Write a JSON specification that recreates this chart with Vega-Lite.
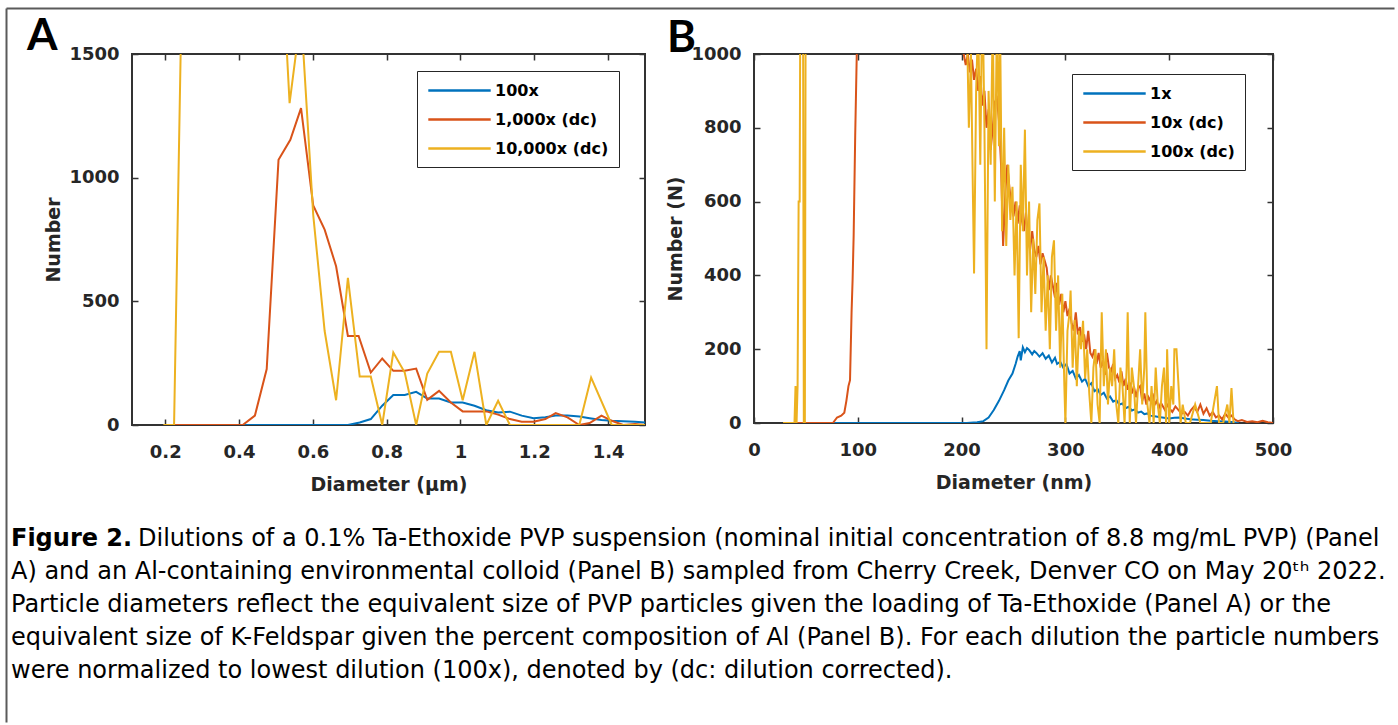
{
  "$schema": "https://vega.github.io/schema/vega-lite/v6.json",
  "padding": {"left": 6, "top": 8, "right": 0, "bottom": 0},
  "background": "white",
  "columns": 2,
  "bounds": "flush",
  "align": "each",
  "spacing": {"column": 109, "row": 94},
  "resolve": {"scale": {"x": "independent", "y": "independent", "color": "independent"}, "legend": {"color": "independent"}},
  "datasets": {
    "caption": [
      {"part": "bold", "line": 1, "text": "Figure 2."},
      {"part": "first", "line": 1, "text": "Dilutions of a 0.1% Ta-Ethoxide PVP suspension (nominal initial concentration of 8.8 mg/mL PVP) (Panel"},
      {"part": "body", "line": 2, "text": "A) and an Al-containing environmental colloid (Panel B) sampled from Cherry Creek, Denver CO on May 20ᵗʰ 2022."},
      {"part": "body", "line": 3, "text": "Particle diameters reflect the equivalent size of PVP particles given the loading of Ta-Ethoxide (Panel A) or the"},
      {"part": "body", "line": 4, "text": "equivalent size of K-Feldspar given the percent composition of Al (Panel B). For each dilution the particle numbers"},
      {"part": "body", "line": 5, "text": "were normalized to lowest dilution (100x), denoted by (dc: dilution corrected)."}
    ],
    "A": [
      {"s":"100x","d":0.4,"n":0},{"s":"100x","d":0.45,"n":0},{"s":"100x","d":0.5,"n":0},{"s":"100x","d":0.55,"n":0},{"s":"100x","d":0.6,"n":0},{"s":"100x","d":0.65,"n":0},{"s":"100x","d":0.695,"n":0},{"s":"100x","d":0.727,"n":10},{"s":"100x","d":0.757,"n":24},{"s":"100x","d":0.788,"n":78},{"s":"100x","d":0.818,"n":121},{"s":"100x","d":0.849,"n":121},{"s":"100x","d":0.88,"n":134},{"s":"100x","d":0.91,"n":107},{"s":"100x","d":0.942,"n":107},{"s":"100x","d":0.974,"n":91},{"s":"100x","d":1.006,"n":91},{"s":"100x","d":1.038,"n":78},{"s":"100x","d":1.07,"n":60},{"s":"100x","d":1.102,"n":51},{"s":"100x","d":1.134,"n":54},{"s":"100x","d":1.166,"n":38},{"s":"100x","d":1.198,"n":27},{"s":"100x","d":1.23,"n":31},{"s":"100x","d":1.258,"n":38},{"s":"100x","d":1.29,"n":38},{"s":"100x","d":1.322,"n":34},{"s":"100x","d":1.35,"n":27},{"s":"100x","d":1.382,"n":20},{"s":"100x","d":1.41,"n":17},{"s":"100x","d":1.441,"n":15},{"s":"100x","d":1.473,"n":13},{"s":"100x","d":1.5,"n":10},
      {"s":"1,000x (dc)","d":0.22,"n":0},{"s":"1,000x (dc)","d":0.25,"n":0},{"s":"1,000x (dc)","d":0.28,"n":0},{"s":"1,000x (dc)","d":0.315,"n":0},{"s":"1,000x (dc)","d":0.345,"n":0},{"s":"1,000x (dc)","d":0.378,"n":0},{"s":"1,000x (dc)","d":0.41,"n":0},{"s":"1,000x (dc)","d":0.443,"n":38},{"s":"1,000x (dc)","d":0.475,"n":226},{"s":"1,000x (dc)","d":0.507,"n":1072},{"s":"1,000x (dc)","d":0.539,"n":1153},{"s":"1,000x (dc)","d":0.568,"n":1281},{"s":"1,000x (dc)","d":0.601,"n":888},{"s":"1,000x (dc)","d":0.632,"n":790},{"s":"1,000x (dc)","d":0.663,"n":642},{"s":"1,000x (dc)","d":0.695,"n":360},{"s":"1,000x (dc)","d":0.724,"n":360},{"s":"1,000x (dc)","d":0.757,"n":212},{"s":"1,000x (dc)","d":0.788,"n":269},{"s":"1,000x (dc)","d":0.818,"n":219},{"s":"1,000x (dc)","d":0.849,"n":219},{"s":"1,000x (dc)","d":0.88,"n":228},{"s":"1,000x (dc)","d":0.91,"n":102},{"s":"1,000x (dc)","d":0.942,"n":138},{"s":"1,000x (dc)","d":0.974,"n":91},{"s":"1,000x (dc)","d":1.006,"n":55},{"s":"1,000x (dc)","d":1.038,"n":55},{"s":"1,000x (dc)","d":1.07,"n":55},{"s":"1,000x (dc)","d":1.102,"n":42},{"s":"1,000x (dc)","d":1.134,"n":24},{"s":"1,000x (dc)","d":1.166,"n":13},{"s":"1,000x (dc)","d":1.198,"n":13},{"s":"1,000x (dc)","d":1.23,"n":24},{"s":"1,000x (dc)","d":1.258,"n":48},{"s":"1,000x (dc)","d":1.29,"n":31},{"s":"1,000x (dc)","d":1.322,"n":0},{"s":"1,000x (dc)","d":1.35,"n":8},{"s":"1,000x (dc)","d":1.382,"n":38},{"s":"1,000x (dc)","d":1.41,"n":17},{"s":"1,000x (dc)","d":1.441,"n":0},{"s":"1,000x (dc)","d":1.473,"n":4},{"s":"1,000x (dc)","d":1.5,"n":0},
      {"s":"10,000x (dc)","d":0.195,"n":0},{"s":"10,000x (dc)","d":0.224,"n":0},{"s":"10,000x (dc)","d":0.256,"n":2700},{"s":"10,000x (dc)","d":0.288,"n":4000},{"s":"10,000x (dc)","d":0.32,"n":3500},{"s":"10,000x (dc)","d":0.352,"n":3000},{"s":"10,000x (dc)","d":0.384,"n":3800},{"s":"10,000x (dc)","d":0.416,"n":3200},{"s":"10,000x (dc)","d":0.448,"n":3000},{"s":"10,000x (dc)","d":0.48,"n":2600},{"s":"10,000x (dc)","d":0.505,"n":2200},{"s":"10,000x (dc)","d":0.537,"n":1301},{"s":"10,000x (dc)","d":0.568,"n":1663},{"s":"10,000x (dc)","d":0.601,"n":850},{"s":"10,000x (dc)","d":0.632,"n":380},{"s":"10,000x (dc)","d":0.663,"n":100},{"s":"10,000x (dc)","d":0.695,"n":595},{"s":"10,000x (dc)","d":0.727,"n":196},{"s":"10,000x (dc)","d":0.757,"n":196},{"s":"10,000x (dc)","d":0.788,"n":0},{"s":"10,000x (dc)","d":0.818,"n":293},{"s":"10,000x (dc)","d":0.849,"n":212},{"s":"10,000x (dc)","d":0.88,"n":0},{"s":"10,000x (dc)","d":0.91,"n":208},{"s":"10,000x (dc)","d":0.942,"n":296},{"s":"10,000x (dc)","d":0.974,"n":296},{"s":"10,000x (dc)","d":1.006,"n":100},{"s":"10,000x (dc)","d":1.038,"n":296},{"s":"10,000x (dc)","d":1.07,"n":0},{"s":"10,000x (dc)","d":1.102,"n":98},{"s":"10,000x (dc)","d":1.134,"n":0},{"s":"10,000x (dc)","d":1.166,"n":0},{"s":"10,000x (dc)","d":1.198,"n":0},{"s":"10,000x (dc)","d":1.23,"n":0},{"s":"10,000x (dc)","d":1.258,"n":0},{"s":"10,000x (dc)","d":1.29,"n":0},{"s":"10,000x (dc)","d":1.322,"n":0},{"s":"10,000x (dc)","d":1.354,"n":192},{"s":"10,000x (dc)","d":1.41,"n":0},{"s":"10,000x (dc)","d":1.441,"n":0},{"s":"10,000x (dc)","d":1.473,"n":0},{"s":"10,000x (dc)","d":1.5,"n":0}
    ],
    "B": [
      {"s":"1x","d":75,"n":0},{"s":"1x","d":90,"n":0},{"s":"1x","d":110,"n":0},{"s":"1x","d":130,"n":0},{"s":"1x","d":150,"n":0},{"s":"1x","d":170,"n":0},{"s":"1x","d":190,"n":0},{"s":"1x","d":205,"n":0},{"s":"1x","d":215,"n":2},{"s":"1x","d":221,"n":5},{"s":"1x","d":226,"n":15},{"s":"1x","d":231,"n":35},{"s":"1x","d":236,"n":60},{"s":"1x","d":241,"n":89},{"s":"1x","d":245,"n":115},{"s":"1x","d":249,"n":134},{"s":"1x","d":252,"n":160},{"s":"1x","d":254,"n":180},{"s":"1x","d":256,"n":195},{"s":"1x","d":257,"n":170},{"s":"1x","d":259,"n":205},{"s":"1x","d":261,"n":192},{"s":"1x","d":263,"n":203},{"s":"1x","d":265,"n":198},{"s":"1x","d":268,"n":186},{"s":"1x","d":270,"n":195},{"s":"1x","d":272,"n":190},{"s":"1x","d":275,"n":180},{"s":"1x","d":278,"n":189},{"s":"1x","d":281,"n":174},{"s":"1x","d":284,"n":183},{"s":"1x","d":287,"n":164},{"s":"1x","d":290,"n":177},{"s":"1x","d":292,"n":160},{"s":"1x","d":295,"n":166},{"s":"1x","d":298,"n":150},{"s":"1x","d":301,"n":160},{"s":"1x","d":304,"n":134},{"s":"1x","d":307,"n":141},{"s":"1x","d":310,"n":121},{"s":"1x","d":313,"n":130},{"s":"1x","d":316,"n":112},{"s":"1x","d":319,"n":120},{"s":"1x","d":322,"n":100},{"s":"1x","d":325,"n":108},{"s":"1x","d":328,"n":86},{"s":"1x","d":331,"n":92},{"s":"1x","d":334,"n":76},{"s":"1x","d":337,"n":82},{"s":"1x","d":340,"n":66},{"s":"1x","d":343,"n":72},{"s":"1x","d":346,"n":58},{"s":"1x","d":349,"n":62},{"s":"1x","d":352,"n":50},{"s":"1x","d":355,"n":53},{"s":"1x","d":358,"n":40},{"s":"1x","d":361,"n":44},{"s":"1x","d":364,"n":34},{"s":"1x","d":367,"n":37},{"s":"1x","d":370,"n":28},{"s":"1x","d":373,"n":31},{"s":"1x","d":376,"n":24},{"s":"1x","d":379,"n":26},{"s":"1x","d":382,"n":20},{"s":"1x","d":386,"n":18},{"s":"1x","d":390,"n":16},{"s":"1x","d":395,"n":14},{"s":"1x","d":400,"n":12},{"s":"1x","d":405,"n":14},{"s":"1x","d":410,"n":15},{"s":"1x","d":415,"n":12},{"s":"1x","d":420,"n":10},{"s":"1x","d":427,"n":9},{"s":"1x","d":433,"n":8},{"s":"1x","d":440,"n":6},{"s":"1x","d":447,"n":5},{"s":"1x","d":454,"n":4},{"s":"1x","d":460,"n":3},{"s":"1x","d":467,"n":0},
      {"s":"10x (dc)","d":30,"n":0},{"s":"10x (dc)","d":40,"n":0},{"s":"10x (dc)","d":50,"n":0},{"s":"10x (dc)","d":60,"n":0},{"s":"10x (dc)","d":70,"n":0},{"s":"10x (dc)","d":76,"n":0},{"s":"10x (dc)","d":80,"n":15},{"s":"10x (dc)","d":84,"n":20},{"s":"10x (dc)","d":87,"n":28},{"s":"10x (dc)","d":89,"n":60},{"s":"10x (dc)","d":91,"n":100},{"s":"10x (dc)","d":92.5,"n":116},{"s":"10x (dc)","d":94,"n":300},{"s":"10x (dc)","d":95,"n":389},{"s":"10x (dc)","d":96,"n":507},{"s":"10x (dc)","d":97.5,"n":780},{"s":"10x (dc)","d":99,"n":1000},{"s":"10x (dc)","d":100,"n":1150},{"s":"10x (dc)","d":110,"n":2200},{"s":"10x (dc)","d":130,"n":3000},{"s":"10x (dc)","d":150,"n":3300},{"s":"10x (dc)","d":170,"n":3000},{"s":"10x (dc)","d":190,"n":2000},{"s":"10x (dc)","d":200,"n":1300},
      {"s":"10x (dc)","d":202,"n":1000},{"s":"10x (dc)","d":204,"n":970},{"s":"10x (dc)","d":206,"n":1000},{"s":"10x (dc)","d":208,"n":950},{"s":"10x (dc)","d":210,"n":985},{"s":"10x (dc)","d":212,"n":930},{"s":"10x (dc)","d":214,"n":960},{"s":"10x (dc)","d":216,"n":900},{"s":"10x (dc)","d":218,"n":940},{"s":"10x (dc)","d":220,"n":860},{"s":"10x (dc)","d":222,"n":900},{"s":"10x (dc)","d":224,"n":800},{"s":"10x (dc)","d":226,"n":850},{"s":"10x (dc)","d":228,"n":740},{"s":"10x (dc)","d":230,"n":800},{"s":"10x (dc)","d":232,"n":870},{"s":"10x (dc)","d":234,"n":880},{"s":"10x (dc)","d":236,"n":820},{"s":"10x (dc)","d":238,"n":700},{"s":"10x (dc)","d":240,"n":480},{"s":"10x (dc)","d":242,"n":620},{"s":"10x (dc)","d":244,"n":700},{"s":"10x (dc)","d":246,"n":640},{"s":"10x (dc)","d":248,"n":590},{"s":"10x (dc)","d":250,"n":560},{"s":"10x (dc)","d":252,"n":600},{"s":"10x (dc)","d":254,"n":540},{"s":"10x (dc)","d":256,"n":590},{"s":"10x (dc)","d":258,"n":550},{"s":"10x (dc)","d":260,"n":520},{"s":"10x (dc)","d":262,"n":570},{"s":"10x (dc)","d":264,"n":500},{"s":"10x (dc)","d":266,"n":470},{"s":"10x (dc)","d":268,"n":520},{"s":"10x (dc)","d":270,"n":470},{"s":"10x (dc)","d":272,"n":450},{"s":"10x (dc)","d":274,"n":480},{"s":"10x (dc)","d":276,"n":430},{"s":"10x (dc)","d":278,"n":460},{"s":"10x (dc)","d":280,"n":440},{"s":"10x (dc)","d":282,"n":420},{"s":"10x (dc)","d":284,"n":360},{"s":"10x (dc)","d":286,"n":400},{"s":"10x (dc)","d":288,"n":370},{"s":"10x (dc)","d":290,"n":340},{"s":"10x (dc)","d":292,"n":380},{"s":"10x (dc)","d":294,"n":320},{"s":"10x (dc)","d":296,"n":350},{"s":"10x (dc)","d":298,"n":300},{"s":"10x (dc)","d":300,"n":330},{"s":"10x (dc)","d":302,"n":290},{"s":"10x (dc)","d":304,"n":310},{"s":"10x (dc)","d":306,"n":270},{"s":"10x (dc)","d":308,"n":250},{"s":"10x (dc)","d":310,"n":300},{"s":"10x (dc)","d":312,"n":240},{"s":"10x (dc)","d":314,"n":260},{"s":"10x (dc)","d":316,"n":220},{"s":"10x (dc)","d":318,"n":240},{"s":"10x (dc)","d":320,"n":200},{"s":"10x (dc)","d":322,"n":250},{"s":"10x (dc)","d":324,"n":190},{"s":"10x (dc)","d":326,"n":180},{"s":"10x (dc)","d":328,"n":200},{"s":"10x (dc)","d":330,"n":160},{"s":"10x (dc)","d":332,"n":190},{"s":"10x (dc)","d":334,"n":150},{"s":"10x (dc)","d":336,"n":170},{"s":"10x (dc)","d":338,"n":130},{"s":"10x (dc)","d":340,"n":190},{"s":"10x (dc)","d":342,"n":150},{"s":"10x (dc)","d":344,"n":140},{"s":"10x (dc)","d":346,"n":160},{"s":"10x (dc)","d":348,"n":120},{"s":"10x (dc)","d":350,"n":130},{"s":"10x (dc)","d":352,"n":110},{"s":"10x (dc)","d":354,"n":140},{"s":"10x (dc)","d":356,"n":100},{"s":"10x (dc)","d":358,"n":120},{"s":"10x (dc)","d":360,"n":90},{"s":"10x (dc)","d":362,"n":110},{"s":"10x (dc)","d":364,"n":80},{"s":"10x (dc)","d":366,"n":100},{"s":"10x (dc)","d":368,"n":70},{"s":"10x (dc)","d":370,"n":95},{"s":"10x (dc)","d":372,"n":100},{"s":"10x (dc)","d":374,"n":60},{"s":"10x (dc)","d":376,"n":80},{"s":"10x (dc)","d":378,"n":50},{"s":"10x (dc)","d":380,"n":70},{"s":"10x (dc)","d":382,"n":60},{"s":"10x (dc)","d":384,"n":80},{"s":"10x (dc)","d":386,"n":50},{"s":"10x (dc)","d":388,"n":60},{"s":"10x (dc)","d":390,"n":40},{"s":"10x (dc)","d":392,"n":55},{"s":"10x (dc)","d":394,"n":45},{"s":"10x (dc)","d":396,"n":35},{"s":"10x (dc)","d":398,"n":50},{"s":"10x (dc)","d":400,"n":40},{"s":"10x (dc)","d":403,"n":30},{"s":"10x (dc)","d":406,"n":45},{"s":"10x (dc)","d":409,"n":35},{"s":"10x (dc)","d":412,"n":25},{"s":"10x (dc)","d":415,"n":30},{"s":"10x (dc)","d":418,"n":20},{"s":"10x (dc)","d":421,"n":35},{"s":"10x (dc)","d":424,"n":45},{"s":"10x (dc)","d":427,"n":30},{"s":"10x (dc)","d":430,"n":50},{"s":"10x (dc)","d":433,"n":25},{"s":"10x (dc)","d":436,"n":40},{"s":"10x (dc)","d":439,"n":20},{"s":"10x (dc)","d":442,"n":30},{"s":"10x (dc)","d":445,"n":15},{"s":"10x (dc)","d":448,"n":20},{"s":"10x (dc)","d":451,"n":10},{"s":"10x (dc)","d":454,"n":25},{"s":"10x (dc)","d":457,"n":15},{"s":"10x (dc)","d":460,"n":20},{"s":"10x (dc)","d":463,"n":10},{"s":"10x (dc)","d":466,"n":5},{"s":"10x (dc)","d":470,"n":8},{"s":"10x (dc)","d":475,"n":3},{"s":"10x (dc)","d":480,"n":5},{"s":"10x (dc)","d":485,"n":2},{"s":"10x (dc)","d":490,"n":6},{"s":"10x (dc)","d":495,"n":2},{"s":"10x (dc)","d":500,"n":0},
      {"s":"100x (dc)","d":28,"n":0},{"s":"100x (dc)","d":32,"n":0},{"s":"100x (dc)","d":36,"n":0},{"s":"100x (dc)","d":39,"n":0},{"s":"100x (dc)","d":40,"n":100},{"s":"100x (dc)","d":41,"n":0},{"s":"100x (dc)","d":42,"n":100},{"s":"100x (dc)","d":43,"n":600},{"s":"100x (dc)","d":44,"n":600},{"s":"100x (dc)","d":45,"n":1500},{"s":"100x (dc)","d":46,"n":2000},{"s":"100x (dc)","d":47,"n":1500},{"s":"100x (dc)","d":48,"n":0},{"s":"100x (dc)","d":49,"n":0},{"s":"100x (dc)","d":50,"n":1500},{"s":"100x (dc)","d":52,"n":3000},{"s":"100x (dc)","d":80,"n":4000},{"s":"100x (dc)","d":120,"n":5000},{"s":"100x (dc)","d":160,"n":4000},{"s":"100x (dc)","d":190,"n":3000},{"s":"100x (dc)","d":203,"n":1400},
      {"s":"100x (dc)","d":205,"n":1100},{"s":"100x (dc)","d":207,"n":800},{"s":"100x (dc)","d":209,"n":1000},{"s":"100x (dc)","d":211,"n":600},{"s":"100x (dc)","d":212,"n":405},{"s":"100x (dc)","d":214,"n":900},{"s":"100x (dc)","d":216,"n":1100},{"s":"100x (dc)","d":218,"n":700},{"s":"100x (dc)","d":220,"n":1200},{"s":"100x (dc)","d":222,"n":800},{"s":"100x (dc)","d":224,"n":200},{"s":"100x (dc)","d":226,"n":900},{"s":"100x (dc)","d":228,"n":700},{"s":"100x (dc)","d":230,"n":1100},{"s":"100x (dc)","d":232,"n":600},{"s":"100x (dc)","d":234,"n":1100},{"s":"100x (dc)","d":236,"n":750},{"s":"100x (dc)","d":237,"n":1100},{"s":"100x (dc)","d":239,"n":520},{"s":"100x (dc)","d":241,"n":800},{"s":"100x (dc)","d":243,"n":480},{"s":"100x (dc)","d":245,"n":700},{"s":"100x (dc)","d":247,"n":550},{"s":"100x (dc)","d":249,"n":640},{"s":"100x (dc)","d":251,"n":400},{"s":"100x (dc)","d":253,"n":600},{"s":"100x (dc)","d":255,"n":230},{"s":"100x (dc)","d":257,"n":700},{"s":"100x (dc)","d":259,"n":520},{"s":"100x (dc)","d":261,"n":795},{"s":"100x (dc)","d":263,"n":400},{"s":"100x (dc)","d":265,"n":600},{"s":"100x (dc)","d":267,"n":300},{"s":"100x (dc)","d":269,"n":500},{"s":"100x (dc)","d":271,"n":350},{"s":"100x (dc)","d":273,"n":550},{"s":"100x (dc)","d":275,"n":595},{"s":"100x (dc)","d":277,"n":300},{"s":"100x (dc)","d":279,"n":450},{"s":"100x (dc)","d":281,"n":250},{"s":"100x (dc)","d":283,"n":400},{"s":"100x (dc)","d":285,"n":200},{"s":"100x (dc)","d":287,"n":450},{"s":"100x (dc)","d":289,"n":495},{"s":"100x (dc)","d":291,"n":250},{"s":"100x (dc)","d":293,"n":400},{"s":"100x (dc)","d":295,"n":150},{"s":"100x (dc)","d":297,"n":350},{"s":"100x (dc)","d":299,"n":100},{"s":"100x (dc)","d":300,"n":0},{"s":"100x (dc)","d":302,"n":250},{"s":"100x (dc)","d":304,"n":300},{"s":"100x (dc)","d":305,"n":359},{"s":"100x (dc)","d":307,"n":150},{"s":"100x (dc)","d":309,"n":280},{"s":"100x (dc)","d":311,"n":100},{"s":"100x (dc)","d":313,"n":250},{"s":"100x (dc)","d":315,"n":200},{"s":"100x (dc)","d":317,"n":277},{"s":"100x (dc)","d":319,"n":120},{"s":"100x (dc)","d":321,"n":200},{"s":"100x (dc)","d":323,"n":80},{"s":"100x (dc)","d":325,"n":0},{"s":"100x (dc)","d":327,"n":150},{"s":"100x (dc)","d":329,"n":200},{"s":"100x (dc)","d":331,"n":50},{"s":"100x (dc)","d":333,"n":0},{"s":"100x (dc)","d":335,"n":300},{"s":"100x (dc)","d":337,"n":100},{"s":"100x (dc)","d":339,"n":200},{"s":"100x (dc)","d":341,"n":50},{"s":"100x (dc)","d":343,"n":150},{"s":"100x (dc)","d":345,"n":100},{"s":"100x (dc)","d":347,"n":200},{"s":"100x (dc)","d":349,"n":50},{"s":"100x (dc)","d":351,"n":0},{"s":"100x (dc)","d":353,"n":150},{"s":"100x (dc)","d":355,"n":100},{"s":"100x (dc)","d":357,"n":0},{"s":"100x (dc)","d":359,"n":150},{"s":"100x (dc)","d":360,"n":300},{"s":"100x (dc)","d":362,"n":0},{"s":"100x (dc)","d":364,"n":150},{"s":"100x (dc)","d":366,"n":100},{"s":"100x (dc)","d":368,"n":0},{"s":"100x (dc)","d":370,"n":100},{"s":"100x (dc)","d":372,"n":200},{"s":"100x (dc)","d":374,"n":50},{"s":"100x (dc)","d":376,"n":150},{"s":"100x (dc)","d":377,"n":300},{"s":"100x (dc)","d":379,"n":50},{"s":"100x (dc)","d":381,"n":0},{"s":"100x (dc)","d":383,"n":100},{"s":"100x (dc)","d":385,"n":0},{"s":"100x (dc)","d":387,"n":150},{"s":"100x (dc)","d":389,"n":50},{"s":"100x (dc)","d":391,"n":0},{"s":"100x (dc)","d":393,"n":100},{"s":"100x (dc)","d":395,"n":150},{"s":"100x (dc)","d":397,"n":0},{"s":"100x (dc)","d":398,"n":200},{"s":"100x (dc)","d":400,"n":0},{"s":"100x (dc)","d":402,"n":100},{"s":"100x (dc)","d":404,"n":50},{"s":"100x (dc)","d":405,"n":200},{"s":"100x (dc)","d":407,"n":200},{"s":"100x (dc)","d":409,"n":100},{"s":"100x (dc)","d":411,"n":0},{"s":"100x (dc)","d":413,"n":50},{"s":"100x (dc)","d":416,"n":0},{"s":"100x (dc)","d":420,"n":0},{"s":"100x (dc)","d":425,"n":50},{"s":"100x (dc)","d":430,"n":0},{"s":"100x (dc)","d":435,"n":0},{"s":"100x (dc)","d":440,"n":0},{"s":"100x (dc)","d":443,"n":50},{"s":"100x (dc)","d":446,"n":100},{"s":"100x (dc)","d":448,"n":0},{"s":"100x (dc)","d":452,"n":0},{"s":"100x (dc)","d":456,"n":50},{"s":"100x (dc)","d":458,"n":0},{"s":"100x (dc)","d":460,"n":95},{"s":"100x (dc)","d":462,"n":0}
    ]
  },
  "concat": [
    {
      "width": 513,
      "height": 371,
      "title": {"text": "A", "anchor": "start", "frame": "group", "dx": -105, "offset": -49, "baseline": "alphabetic", "font": "Lato", "fontSize": 44, "fontWeight": "bold", "color": "black"},
      "view": {"stroke": "#333333", "strokeWidth": 2},
      "data": {"name": "A"},
      "resolve": {"axis": {"x": "independent", "y": "independent"}},
      "layer": [
        {
          "mark": {"type": "line", "strokeWidth": 2, "clip": true},
          "encoding": {
            "x": {"field": "d", "type": "quantitative", "scale": {"domain": [0.11, 1.5], "nice": false, "zero": false}, "axis": {"orient": "bottom", "values": [0.2, 0.4, 0.6, 0.8, 1, 1.2, 1.4], "format": "~g", "labelPadding": 24, "titlePadding": 14}, "title": "Diameter (μm)"},
            "y": {"field": "n", "type": "quantitative", "scale": {"domain": [0, 1500], "nice": false, "zero": false}, "axis": {"orient": "left", "values": [0, 500, 1000, 1500], "format": "d", "labelPadding": 19, "titlePadding": 5}, "title": "Number"},
            "color": {"field": "s", "type": "nominal", "sort": null, "scale": {"domain": ["100x", "1,000x (dc)", "10,000x (dc)"], "range": ["#0072BD", "#D95319", "#EDB120"]}, "legend": {"orient": "none", "legendX": 285, "legendY": 17}}
          }
        },
        {
          "mark": {"type": "line", "opacity": 0, "clip": true},
          "encoding": {
            "x": {"field": "d", "type": "quantitative", "axis": {"orient": "top", "values": [0.2, 0.4, 0.6, 0.8, 1, 1.2, 1.4], "labels": false, "title": null}},
            "y": {"field": "n", "type": "quantitative", "axis": {"orient": "right", "values": [0, 500, 1000, 1500], "labels": false, "title": null}}
          }
        }
      ]
    },
    {
      "width": 519,
      "height": 369,
      "title": {"text": "B", "anchor": "start", "frame": "group", "dx": -87, "offset": -51, "baseline": "alphabetic", "font": "Lato", "fontSize": 44, "fontWeight": "bold", "color": "black"},
      "view": {"stroke": "#333333", "strokeWidth": 2},
      "data": {"name": "B"},
      "resolve": {"axis": {"x": "independent", "y": "independent"}},
      "layer": [
        {
          "mark": {"type": "line", "strokeWidth": 2, "clip": true},
          "encoding": {
            "x": {"field": "d", "type": "quantitative", "scale": {"domain": [0, 500], "nice": false, "zero": false}, "axis": {"orient": "bottom", "values": [0, 100, 200, 300, 400, 500], "format": "d", "labelPadding": 24, "titlePadding": 14}, "title": "Diameter (nm)"},
            "y": {"field": "n", "type": "quantitative", "scale": {"domain": [0, 1000], "nice": false, "zero": false}, "axis": {"orient": "left", "values": [0, 200, 400, 600, 800, 1000], "format": "d", "labelPadding": 19, "titlePadding": 5}, "title": "Number (N)"},
            "color": {"field": "s", "type": "nominal", "sort": null, "scale": {"domain": ["1x", "10x (dc)", "100x (dc)"], "range": ["#0072BD", "#D95319", "#EDB120"]}, "legend": {"orient": "none", "legendX": 318, "legendY": 20}}
          }
        },
        {
          "mark": {"type": "line", "opacity": 0, "clip": true},
          "encoding": {
            "x": {"field": "d", "type": "quantitative", "axis": {"orient": "top", "values": [0, 100, 200, 300, 400, 500], "labels": false, "title": null}},
            "y": {"field": "n", "type": "quantitative", "axis": {"orient": "right", "values": [0, 200, 400, 600, 800, 1000], "labels": false, "title": null}}
          }
        }
      ]
    },
    {
      "width": 513,
      "height": 170,
      "data": {"name": "caption"},
      "encoding": {
        "x": {"datum": 0, "type": "quantitative", "scale": {"domain": [-5, 1383], "range": [-126, 1262], "nice": false, "zero": false}, "axis": {"orient": "top", "offset": 511, "domain": true, "domainColor": "#5a5a5a", "domainWidth": 2, "ticks": false, "labels": false, "grid": false, "title": null}},
        "y": {"field": "line", "type": "quantitative", "scale": {"domain": [-15.0909, 6.5455], "range": [-511, 203], "nice": false, "zero": false}, "axis": {"orient": "left", "offset": 126, "domain": true, "domainColor": "#5a5a5a", "domainWidth": 2, "ticks": false, "labels": false, "grid": false, "title": null}},
        "text": {"field": "text", "type": "nominal"}
      },
      "layer": [
        {"transform": [{"filter": "datum.part === 'bold'"}], "mark": {"type": "text", "align": "left", "baseline": "middle", "font": "DejaVu Sans", "fontSize": 24, "fontWeight": "bold", "color": "black"}},
        {"transform": [{"filter": "datum.part === 'first'"}], "mark": {"type": "text", "align": "left", "baseline": "middle", "font": "DejaVu Sans", "fontSize": 24, "dx": 127, "color": "black"}},
        {"transform": [{"filter": "datum.part === 'body'"}], "mark": {"type": "text", "align": "left", "baseline": "middle", "font": "DejaVu Sans", "fontSize": 24, "color": "black"}}
      ]
    }
  ],
  "config": {
    "view": {"stroke": null},
    "axis": {"grid": false, "domain": false, "labelFlush": false, "labelOverlap": false, "labelFont": "DejaVu Sans", "labelFontWeight": "bold", "labelFontSize": 18, "labelColor": "#262626", "titleFont": "DejaVu Sans", "titleFontWeight": "bold", "titleFontSize": 19, "titleColor": "#262626", "tickColor": "#333333", "tickWidth": 1.5, "tickSize": -6},
    "legend": {"title": null, "symbolType": "M-3.9,0H3.9", "symbolSize": 256, "symbolStrokeWidth": 2.5, "symbolOffset": 23, "labelOffset": 26, "labelFont": "DejaVu Sans", "labelFontWeight": "bold", "labelFontSize": 16, "labelColor": "black", "padding": 10, "rowPadding": 11, "strokeColor": "#262626", "fillColor": "white"}
  }
}
